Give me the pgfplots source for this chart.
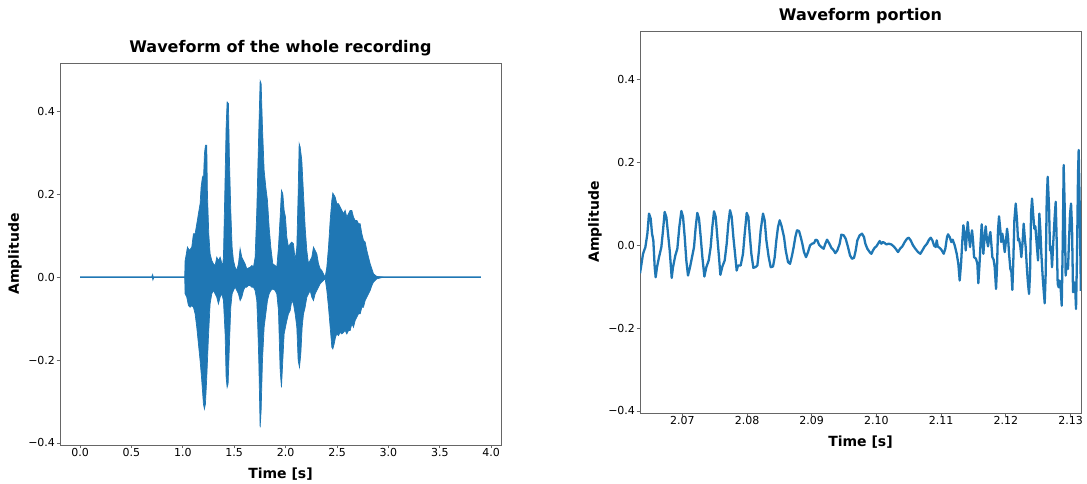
\documentclass[border=0pt]{standalone}
\usepackage{fontspec}
\setmainfont{DejaVu Sans}
\usepackage{pgfplots}
\usepackage{pgfplotstable}
\pgfplotsset{compat=1.18}
\usepgfplotslibrary{fillbetween}
\definecolor{mplblue}{HTML}{1F77B4}

% upper envelope of whole recording
\pgfplotstableread{
t a
1.0180 0.0000
1.0219 0.0400
1.0284 0.0484
1.0446 0.0726
1.0641 0.0645
1.0868 0.0726
1.1030 0.1048
1.1192 0.1048
1.1355 0.1290
1.1517 0.1532
1.1679 0.1773
1.1776 0.2176
1.1906 0.2418
1.2003 0.2337
1.2100 0.2982
1.2198 0.3183
1.2328 0.3183
1.2392 0.2015
1.2522 0.1048
1.2652 0.0565
1.2814 0.0404
1.2976 0.0323
1.3139 0.0283
1.3301 0.0484
1.3463 0.0404
1.3625 0.0484
1.3723 0.0404
1.3852 0.0242
1.3950 0.0484
1.4080 0.2015
1.4209 0.3626
1.4307 0.4230
1.4436 0.4190
1.4534 0.2821
1.4663 0.1612
1.4793 0.0726
1.4923 0.0404
1.5085 0.0242
1.5247 0.0162
1.5410 0.0323
1.5572 0.0686
1.5734 0.0484
1.5896 0.0404
1.6058 0.0323
1.6221 0.0202
1.6545 0.0242
1.6707 0.0283
1.6870 0.0242
1.7032 0.0484
1.7194 0.1612
1.7356 0.3223
1.7518 0.4738
1.7616 0.4674
1.7745 0.3626
1.7908 0.2579
1.8070 0.2176
1.8232 0.1854
1.8394 0.1209
1.8557 0.0726
1.8751 0.0323
1.8978 0.0283
1.9140 0.0242
1.9302 0.0726
1.9465 0.1451
1.9594 0.2095
1.9724 0.2015
1.9854 0.1612
1.9984 0.1451
2.0114 0.0968
2.0276 0.0726
2.0438 0.0807
2.0600 0.0847
2.0762 0.0807
2.0925 0.0404
2.1087 0.0726
2.1217 0.2015
2.1314 0.3223
2.1411 0.3143
2.1573 0.2821
2.1736 0.2015
2.1898 0.1209
2.2060 0.0645
2.2222 0.0323
2.2384 0.0404
2.2547 0.0484
2.2709 0.0726
2.2871 0.0645
2.3033 0.0565
2.3196 0.0323
2.3358 0.0202
2.3520 0.0162
2.3682 0.0081
2.3844 0.0000
2.4007 0.0242
2.4169 0.0726
2.4331 0.1370
2.4493 0.1854
2.4590 0.2031
2.4818 0.1934
2.4980 0.1773
2.5142 0.1773
2.5304 0.1693
2.5466 0.1612
2.5629 0.1532
2.5791 0.1612
2.5953 0.1451
2.6115 0.1532
2.6277 0.1612
2.6440 0.1612
2.6602 0.1451
2.6764 0.1370
2.6926 0.1370
2.7088 0.1290
2.7251 0.1290
2.7413 0.1048
2.7575 0.0887
2.7737 0.0847
2.7900 0.0645
2.8062 0.0484
2.8224 0.0323
2.8386 0.0202
2.8548 0.0081
2.8873 0.0017
2.9500 0.0000
}\envup

% lower envelope of whole recording
\pgfplotstableread{
t a
1.0180 0.0000
1.0219 -0.0402
1.0381 -0.0483
1.0543 -0.0684
1.0706 -0.0724
1.0868 -0.0684
1.1030 -0.0724
1.1192 -0.0885
1.1355 -0.1208
1.1517 -0.1610
1.1679 -0.2013
1.1841 -0.2497
1.2003 -0.3061
1.2100 -0.3181
1.2198 -0.3061
1.2328 -0.2416
1.2490 -0.1449
1.2652 -0.0644
1.2814 -0.0402
1.2976 -0.0321
1.3139 -0.0402
1.3301 -0.0483
1.3463 -0.0644
1.3625 -0.0483
1.3788 -0.0402
1.3950 -0.0563
1.4112 -0.1369
1.4209 -0.2416
1.4307 -0.2658
1.4404 -0.2577
1.4534 -0.1610
1.4663 -0.0724
1.4793 -0.0402
1.4923 -0.0321
1.5085 -0.0241
1.5247 -0.0321
1.5410 -0.0402
1.5572 -0.0563
1.5734 -0.0483
1.5896 -0.0321
1.6058 -0.0241
1.6221 -0.0241
1.6383 -0.0201
1.6545 -0.0201
1.6707 -0.0241
1.6870 -0.0241
1.7032 -0.0321
1.7194 -0.0563
1.7291 -0.1208
1.7388 -0.2013
1.7518 -0.3625
1.7616 -0.3222
1.7745 -0.2013
1.7908 -0.1208
1.8070 -0.0885
1.8232 -0.0563
1.8394 -0.0402
1.8557 -0.0321
1.8751 -0.0281
1.8978 -0.0321
1.9140 -0.0402
1.9302 -0.0805
1.9465 -0.2255
1.9594 -0.2658
1.9724 -0.2013
1.9854 -0.1369
1.9984 -0.1208
2.0114 -0.1047
2.0276 -0.0885
2.0438 -0.0805
2.0600 -0.0563
2.0762 -0.0644
2.0925 -0.0885
2.1087 -0.1208
2.1217 -0.2013
2.1346 -0.2174
2.1476 -0.1852
2.1606 -0.1208
2.1736 -0.0885
2.1898 -0.0724
2.2060 -0.0483
2.2222 -0.0402
2.2384 -0.0321
2.2547 -0.0483
2.2709 -0.0563
2.2871 -0.0402
2.3033 -0.0321
2.3196 -0.0241
2.3358 -0.0160
2.3520 -0.0120
2.3682 -0.0080
2.3844 -0.0039
2.4007 -0.0321
2.4169 -0.0724
2.4331 -0.1208
2.4493 -0.1691
2.4590 -0.1731
2.4720 -0.1610
2.4850 -0.1449
2.4980 -0.1369
2.5142 -0.1409
2.5304 -0.1329
2.5466 -0.1369
2.5629 -0.1329
2.5791 -0.1288
2.5953 -0.1369
2.6115 -0.1288
2.6277 -0.1288
2.6440 -0.1127
2.6602 -0.1208
2.6764 -0.1047
2.6926 -0.0966
2.7088 -0.0885
2.7251 -0.0885
2.7413 -0.0724
2.7575 -0.0724
2.7737 -0.0563
2.7900 -0.0483
2.8062 -0.0402
2.8224 -0.0321
2.8386 -0.0201
2.8548 -0.0120
2.8873 -0.0039
2.9500 0.0000
}\envlo

% waveform portion
\pgfplotstableread{
t a
2.06346 -0.0680
2.06393 -0.0207
2.06429 -0.0045
2.06460 0.0278
2.06485 0.0763
2.06511 0.0642
2.06532 0.0278
2.06552 0.0116
2.06573 -0.0530
2.06588 -0.0773
2.06609 -0.0530
2.06640 -0.0288
2.06676 -0.0045
2.06702 0.0359
2.06727 0.0803
2.06753 0.0682
2.06779 0.0278
2.06805 -0.0126
2.06836 -0.0789
2.06856 -0.0530
2.06892 -0.0247
2.06923 -0.0086
2.06954 0.0440
2.06985 0.0827
2.07011 0.0682
2.07037 0.0197
2.07062 -0.0368
2.07088 -0.0732
2.07119 -0.0530
2.07150 -0.0288
2.07181 -0.0045
2.07207 0.0440
2.07232 0.0779
2.07258 0.0642
2.07284 0.0197
2.07310 -0.0288
2.07341 -0.0756
2.07371 -0.0530
2.07408 -0.0368
2.07438 -0.0045
2.07464 0.0440
2.07490 0.0819
2.07516 0.0682
2.07541 0.0197
2.07567 -0.0288
2.07588 -0.0716
2.07619 -0.0514
2.07655 -0.0368
2.07686 0.0036
2.07711 0.0520
2.07737 0.0844
2.07763 0.0682
2.07789 0.0197
2.07815 -0.0207
2.07840 -0.0611
2.07861 -0.0490
2.07902 -0.0490
2.07938 -0.0207
2.07964 0.0278
2.07995 0.0779
2.08021 0.0682
2.08041 0.0278
2.08067 -0.0207
2.08098 -0.0546
2.08129 -0.0530
2.08160 -0.0490
2.08185 -0.0126
2.08211 0.0359
2.08247 0.0763
2.08273 0.0601
2.08299 0.0116
2.08335 -0.0288
2.08366 -0.0530
2.08402 -0.0514
2.08428 -0.0288
2.08453 0.0116
2.08479 0.0440
2.08505 0.0601
2.08531 0.0480
2.08572 0.0197
2.08598 -0.0126
2.08634 -0.0409
2.08665 -0.0449
2.08696 -0.0247
2.08721 -0.0045
2.08747 0.0197
2.08773 0.0359
2.08804 0.0343
2.08830 0.0197
2.08855 0.0036
2.08881 -0.0166
2.08912 -0.0288
2.08943 -0.0166
2.08974 -0.0005
2.09005 0.0036
2.09036 0.0052
2.09061 0.0133
2.09087 0.0116
2.09113 0.0011
2.09149 -0.0045
2.09185 -0.0086
2.09211 0.0036
2.09237 0.0133
2.09267 0.0052
2.09303 -0.0061
2.09340 -0.0126
2.09365 -0.0191
2.09396 -0.0126
2.09432 0.0036
2.09458 0.0254
2.09494 0.0238
2.09525 0.0157
2.09561 -0.0045
2.09592 -0.0247
2.09623 -0.0328
2.09654 -0.0304
2.09680 -0.0126
2.09705 0.0116
2.09741 0.0238
2.09777 0.0278
2.09808 0.0197
2.09829 0.0036
2.09860 -0.0086
2.09896 -0.0166
2.09922 -0.0207
2.09947 -0.0126
2.09973 -0.0061
2.09999 -0.0029
2.10025 0.0036
2.10050 0.0100
2.10076 0.0036
2.10102 0.0076
2.10128 0.0052
2.10154 0.0019
2.10190 0.0036
2.10231 0.0019
2.10267 -0.0029
2.10298 -0.0086
2.10334 -0.0166
2.10365 -0.0086
2.10401 -0.0029
2.10437 0.0076
2.10473 0.0157
2.10499 0.0181
2.10530 0.0116
2.10566 -0.0005
2.10602 -0.0086
2.10643 -0.0166
2.10679 -0.0207
2.10710 -0.0126
2.10746 -0.0029
2.10782 0.0036
2.10813 0.0133
2.10839 0.0181
2.10865 0.0116
2.10890 -0.0005
2.10916 -0.0045
2.10932 0.0116
2.10947 -0.0029
2.10973 -0.0061
2.11004 -0.0110
2.11040 -0.0207
2.11065 -0.0086
2.11091 0.0197
2.11107 0.0262
2.11132 0.0197
2.11158 0.0076
2.11179 0.0133
2.11210 -0.0005
2.11241 -0.0207
2.11266 -0.0449
2.11287 -0.0853
2.11308 -0.0449
2.11328 0.0116
2.11344 0.0480
2.11364 0.0278
2.11380 -0.0126
2.11395 0.0197
2.11411 0.0561
2.11431 0.0197
2.11447 -0.0045
2.11462 0.0197
2.11478 0.0359
2.11493 0.0116
2.11509 -0.0288
2.11539 -0.0328
2.11560 -0.0449
2.11575 -0.0918
2.11591 -0.0530
2.11612 0.0116
2.11627 0.0504
2.11643 0.0116
2.11653 -0.0207
2.11668 0.0116
2.11689 0.0456
2.11709 0.0116
2.11725 -0.0029
2.11745 0.0197
2.11761 0.0318
2.11776 0.0036
2.11792 -0.0288
2.11812 -0.0352
2.11828 -0.0530
2.11849 -0.1055
2.11864 -0.0530
2.11879 0.0359
2.11895 0.0698
2.11916 0.0359
2.11926 0.0076
2.11946 0.0278
2.11962 0.0116
2.11983 -0.0166
2.12003 0.0116
2.12019 0.0399
2.12034 0.0197
2.12050 -0.0207
2.12070 -0.0570
2.12086 -0.0651
2.12101 -0.1080
2.12116 -0.0368
2.12132 0.0601
2.12153 0.1005
2.12173 0.0601
2.12189 0.0116
2.12204 0.0157
2.12225 -0.0045
2.12240 -0.0288
2.12261 0.0116
2.12276 0.0520
2.12292 0.0197
2.12307 -0.0045
2.12328 -0.0611
2.12343 -0.0934
2.12359 -0.1177
2.12374 -0.0692
2.12390 0.0763
2.12405 0.1127
2.12426 0.0682
2.12441 0.0399
2.12456 0.0456
2.12477 0.0036
2.12498 -0.0368
2.12518 0.0763
2.12534 0.0359
2.12549 -0.0207
2.12570 -0.0773
2.12585 -0.1096
2.12601 -0.1403
2.12616 -0.0692
2.12632 0.1086
2.12647 0.1652
2.12668 0.0924
2.12683 -0.0126
2.12699 -0.0045
2.12714 -0.0530
2.12735 0.0116
2.12755 0.0682
2.12771 0.1046
2.12786 0.0116
2.12802 -0.0934
2.12817 -0.1015
2.12833 -0.0853
2.12848 -0.1055
2.12864 -0.1459
2.12879 -0.0045
2.12894 0.1935
2.12910 0.0924
2.12925 -0.0732
2.12941 -0.0449
2.12961 -0.0570
2.12977 0.0116
2.12992 0.0747
2.13008 0.1005
2.13023 0.0440
2.13039 -0.1136
2.13054 -0.0894
2.13070 -0.0950
2.13085 -0.1540
2.13100 -0.0288
2.13116 0.1733
2.13126 0.2298
2.13142 0.0924
2.13160 -0.1100
}\portion

\pgfplotsset{
  every axis title/.style={at={(0.5,1)}, anchor=center},
  wave/.style={
    scale only axis, width=441bp, height=382bp,
    anchor=south west,
    axis line style={black!60, line width=0.7pt},
    every tick/.style={black!60, line width=0.7pt},
    tick align=outside, major tick length=3.5bp,
    xtick pos=bottom, ytick pos=left,
    tick label style={font=\fontsize{11bp}{13bp}\selectfont},
    xticklabel style={yshift=3.5bp},
    yticklabel style={xshift=2bp},
    label style={font=\bfseries\fontsize{14bp}{17bp}\selectfont},
    title style={font=\bfseries\fontsize{16bp}{19bp}\selectfont},
    xlabel style={at={(axis description cs:0.5,-0.076)}, anchor=center},
    ylabel style={at={(axis description cs:-0.102,0.5)}, anchor=center},
    ymin=-0.405, ymax=0.517,
    ytick={-0.4,-0.2,0,0.2,0.4},
    yticklabels={−0.4,−0.2,0.0,0.2,0.4},
    scaled x ticks=false, scaled y ticks=false,
    xlabel={Time [s]}, ylabel={Amplitude},
  }
}

\begin{document}
\begin{tikzpicture}
\path (0,0) rectangle (1087bp,484bp);
\begin{axis}[wave, at={(60bp,39bp)},
  title={Waveform of the whole recording},
  title style={at={(axis description cs:0.5,1.039)}},
  xmin=-0.195, xmax=4.095,
  xtick={0,0.5,1,1.5,2,2.5,3,3.5,4},
  xticklabels={0.0,0.5,1.0,1.5,2.0,2.5,3.0,3.5,4.0}]
\addplot[mplblue, line width=1.6pt] coordinates {(0,0) (0.70,0) (0.705,0.003) (0.71,-0.003) (0.715,0) (3.9,0)};
\addplot[mplblue, line width=0.7pt, name path=up] table[x=t,y=a] {\envup};
\addplot[mplblue, line width=0.7pt, name path=lo] table[x=t,y=a] {\envlo};
\addplot[mplblue, draw=none] fill between[of=up and lo];
\end{axis}
\begin{axis}[wave, at={(640bp,71bp)},
  title={Waveform portion},
  title style={at={(axis description cs:0.5,1.040)}},
  xmin=2.06346, xmax=2.13162,
  xtick={2.07,2.08,2.09,2.10,2.11,2.12,2.13},
  xticklabels={2.07,2.08,2.09,2.10,2.11,2.12,2.13}]
\addplot[mplblue, line width=2.3pt, line join=round] table[x=t,y=a] {\portion};
\end{axis}
\end{tikzpicture}
\end{document}
